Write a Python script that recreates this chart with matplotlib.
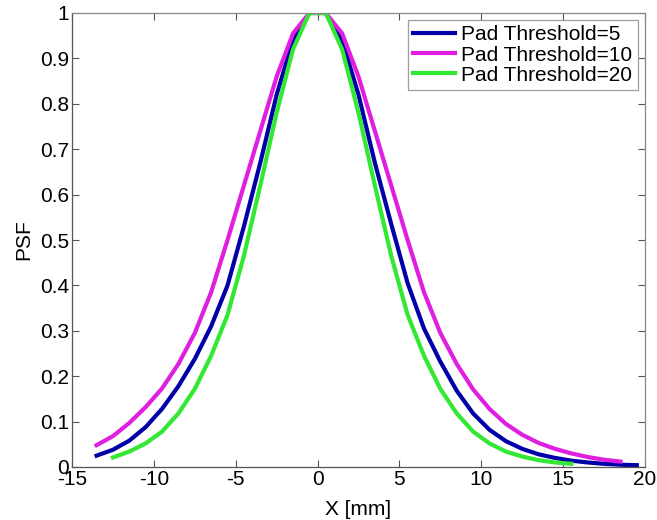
import matplotlib
matplotlib.use("Agg")
import matplotlib.pyplot as plt

plt.rcParams['font.family'] = ['Liberation Sans', 'DejaVu Sans']

# Pad Threshold = 5 (blue)
x_t5 = [-13.5, -12.5, -11.5, -10.5, -9.5, -8.5, -7.5, -6.5, -5.5, -4.5, -3.5, -2.5, -1.5, -0.5,
        0.5, 1.5, 2.5, 3.5, 4.5, 5.5, 6.5, 7.5, 8.5, 9.5, 10.5, 11.5, 12.5, 13.5, 14.5, 15.5,
        16.5, 17.5, 18.5, 19.5]
y_t5 = [0.025, 0.038, 0.058, 0.088, 0.128, 0.178, 0.238, 0.31, 0.40, 0.53, 0.67, 0.82, 0.94, 1.0,
        1.0, 0.94, 0.82, 0.67, 0.535, 0.405, 0.305, 0.232, 0.168, 0.118, 0.082, 0.057, 0.040, 0.028,
        0.020, 0.014, 0.010, 0.007, 0.005, 0.004]

# Pad Threshold = 10 (magenta)
x_t10 = [-13.5, -12.5, -11.5, -10.5, -9.5, -8.5, -7.5, -6.5, -5.5, -4.5, -3.5, -2.5, -1.5, -0.5,
         0.5, 1.5, 2.5, 3.5, 4.5, 5.5, 6.5, 7.5, 8.5, 9.5, 10.5, 11.5, 12.5, 13.5, 14.5, 15.5,
         16.5, 17.5, 18.5]
y_t10 = [0.048, 0.068, 0.097, 0.132, 0.173, 0.227, 0.295, 0.385, 0.50, 0.62, 0.74, 0.86, 0.955, 1.0,
         1.0, 0.955, 0.86, 0.74, 0.62, 0.50, 0.385, 0.295, 0.227, 0.171, 0.128, 0.095, 0.071, 0.053,
         0.040, 0.030, 0.022, 0.016, 0.012]

# Pad Threshold = 20 (green)
x_t20 = [-12.5, -11.5, -10.5, -9.5, -8.5, -7.5, -6.5, -5.5, -4.5, -3.5, -2.5, -1.5, -0.5,
         0.5, 1.5, 2.5, 3.5, 4.5, 5.5, 6.5, 7.5, 8.5, 9.5, 10.5, 11.5, 12.5, 13.5, 14.5, 15.5]
y_t20 = [0.021, 0.034, 0.052, 0.078, 0.118, 0.172, 0.245, 0.335, 0.465, 0.62, 0.78, 0.92, 1.0,
         1.0, 0.92, 0.78, 0.62, 0.465, 0.335, 0.245, 0.172, 0.118, 0.078, 0.052, 0.034, 0.023,
         0.015, 0.010, 0.007]

labels = ['Pad Threshold=5', 'Pad Threshold=10', 'Pad Threshold=20']
colors = ['#0000a8', '#e01ee0', '#33e833']

xticks = [-15, -10, -5, 0, 5, 10, 15, 20]
yticks = [0, 0.1, 0.2, 0.3, 0.4, 0.5, 0.6, 0.7, 0.8, 0.9, 1]
ytick_labels = ['0', '0.1', '0.2', '0.3', '0.4', '0.5', '0.6', '0.7', '0.8', '0.9', '1']

fig = plt.figure(figsize=(6.57, 5.2), dpi=100)
ax = fig.add_axes([72 / 657, 53 / 520, 573 / 657, 454 / 520])

for xs, ys, lab, c in zip([x_t5, x_t10, x_t20], [y_t5, y_t10, y_t20], labels, colors):
    ax.plot(xs, ys, color=c, lw=3, label=lab, solid_joinstyle='round')

ax.set_xlim(-15, 20)
ax.set_ylim(0, 1)
ax.set_xticks(xticks)
ax.set_xticklabels([str(t) for t in xticks])
ax.set_yticks(yticks)
ax.set_yticklabels(ytick_labels)
ax.tick_params(direction='in', length=5, width=0.8, colors='#555555', labelcolor='black',
               labelsize=15, top=True, right=True, pad=2)
for side, sp in ax.spines.items():
    sp.set_color('#555555' if side in ('left', 'bottom') else '#888888')
    sp.set_linewidth(0.9)

ax.set_xlabel('X [mm]', fontsize=15, labelpad=8)
ax.set_ylabel('PSF', fontsize=15, labelpad=5)

leg = ax.legend(loc='upper right', fontsize=15, frameon=True, fancybox=False,
                borderpad=0.25, handlelength=2.0, handletextpad=0.3, labelspacing=0.05,
                borderaxespad=0.35)
leg.get_frame().set_edgecolor('#888888')
leg.get_frame().set_linewidth(0.9)

fig.savefig('out.png', dpi=100)
